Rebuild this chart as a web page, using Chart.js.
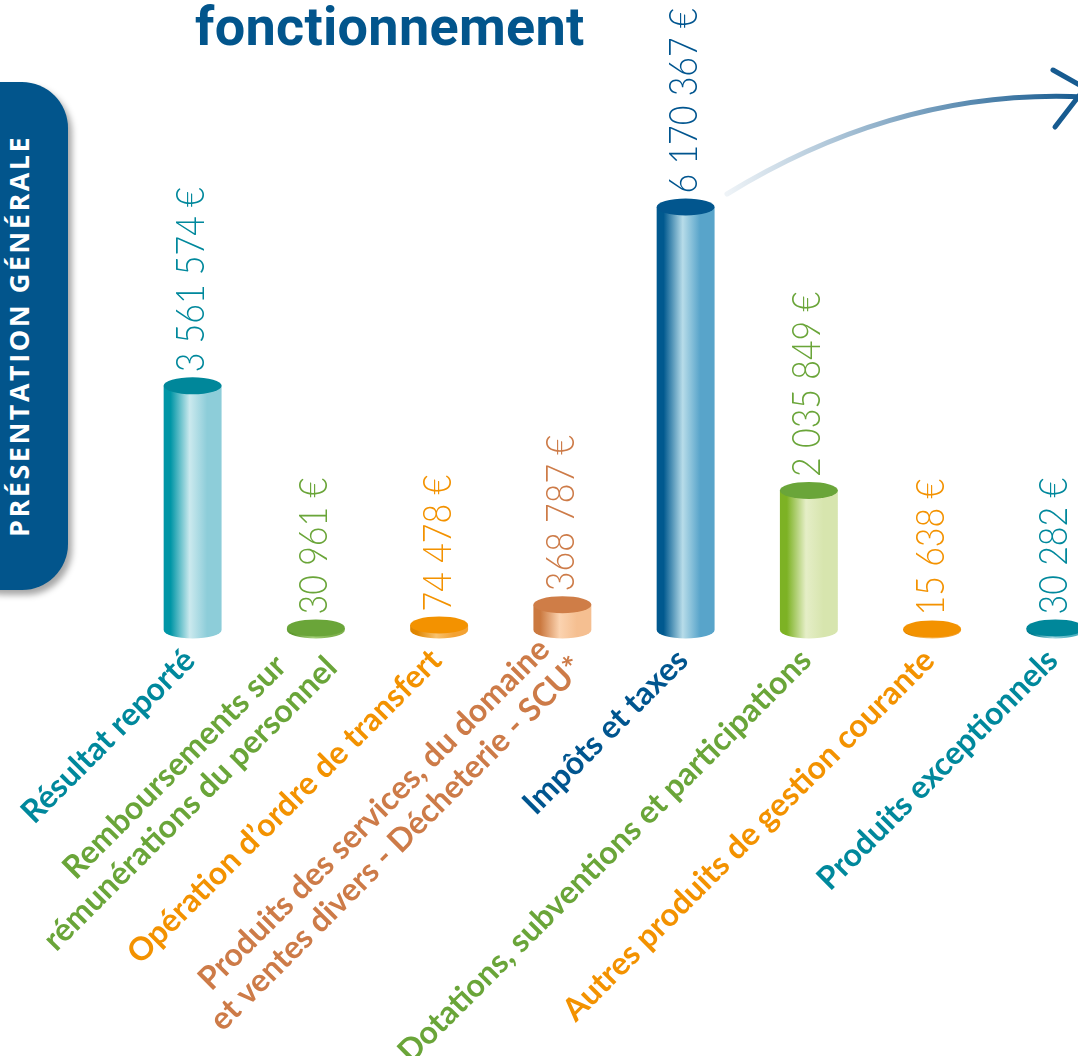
<!DOCTYPE html>
<html>
<head>
<meta charset="utf-8">
<script src="https://cdn.jsdelivr.net/npm/chart.js@4"></script>
<style>
html, body { margin: 0; padding: 0; width: 1078px; height: 1056px; overflow: hidden; background: #fff; }
#chart { position: absolute; left: 0; top: 0; display: block; }
#title { position: absolute; left: 195px; top: 0px; font: 700 54px Roboto, sans-serif; line-height: 53px; color: #02558c; white-space: nowrap; letter-spacing: 0.3px; }
#tab { position: absolute; left: -45px; top: 82px; width: 113px; height: 508px; background: #02558c; border-radius: 46px; box-shadow: 4px 5px 6px rgba(0,0,0,0.35); }
#tab span { position: absolute; left: 45px; top: 0; width: 40px; height: 508px; writing-mode: vertical-rl; transform: rotate(180deg); text-align: center; line-height: 38px; color: #fff; font: 700 27px "Open Sans", sans-serif; letter-spacing: 2.5px; white-space: nowrap; }
</style>
</head>
<body>
<div id="title">fonctionnement</div>
<div id="tab"><span>PRÉSENTATION GÉNÉRALE</span></div>
<canvas id="chart" width="1130" height="1056"></canvas>
<script>
// Categories (one entry per bar, split in lines as on the picture)
const categories = [
    ['Résultat reporté'],
    ['Remboursements sur', 'rémunérations du personnel'],
    ['Opération d’ordre de transfert'],
    ['Produits des services, du domaine', 'et ventes divers - Décheterie - SCU*'],
    ['Impôts et taxes'],
    ['Dotations, subventions et participations'],
    ['Autres produits de gestion courante'],
    ['Produits exceptionnels']
];

// Amounts in euros
const values = [3561574, 30961, 74478, 368787, 6170367, 2035849, 15638, 30282];

// Colours for each bar: text, top of cylinder, side gradient (dark, light, right)
const textColors = ['#00889c', '#6aa539', '#f39200', '#cd7b48', '#00558f', '#6aa539', '#f39200', '#00889c'];
const topColors = ['#00879a', '#6aa539', '#f39200', '#cf7d47', '#02568e', '#6aa539', '#f39200', '#00879a'];
const sideColors = [
    ['#0096a6', '#cbe9ee', '#8dcdd9'],
    ['#5f9a2f', '#a4cf7a', '#7fb24e'],
    ['#e08600', '#f8c26e', '#f3a233'],
    ['#cb7940', '#fbd3b0', '#f5bf91'],
    ['#00598f', '#b7dce9', '#58a4ca'],
    ['#7db224', '#e5eec7', '#d7e5ae'],
    ['#e08600', '#f8c26e', '#f3a233'],
    ['#007f92', '#9fd3dc', '#4ab0c0']
];

const formatEuro = v => String(v).replace(/\B(?=(\d{3})+(?!\d))/g, ' ') + ' €';

// Draws every bar as a cylinder, plus value and category labels
const cylinderPlugin = {
    id: 'cylinders',
    afterDatasetsDraw(chart) {
        const ctx = chart.ctx;
        const meta = chart.getDatasetMeta(0);
        meta.data.forEach((bar, i) => {
            const { x, y, base, width } = bar.getProps(['x', 'y', 'base', 'width'], true);
            const rx = width / 2;
            const ry = 8.5;
            const side = sideColors[i];

            // body
            const g = ctx.createLinearGradient(x - rx, 0, x + rx, 0);
            g.addColorStop(0, side[0]);
            g.addColorStop(0.12, side[0]);
            g.addColorStop(0.45, side[1]);
            g.addColorStop(0.75, side[2]);
            g.addColorStop(1, side[2]);
            ctx.save();
            ctx.beginPath();
            ctx.moveTo(x - rx, y);
            ctx.lineTo(x - rx, base);
            ctx.ellipse(x, base, rx, ry, 0, Math.PI, 0, true);
            ctx.lineTo(x + rx, y);
            ctx.closePath();
            ctx.fillStyle = g;
            ctx.fill();

            // top
            ctx.beginPath();
            ctx.ellipse(x, y, rx, ry, 0, 0, Math.PI * 2);
            ctx.fillStyle = topColors[i];
            ctx.fill();
            ctx.restore();

            // value label, vertical
            ctx.save();
            ctx.translate(x - 1, y - ry - 5);
            ctx.rotate(-Math.PI / 2);
            ctx.scale(0.87, 1);
            ctx.font = '300 39px Lato, sans-serif';
            ctx.fillStyle = textColors[i];
            ctx.textAlign = 'left';
            ctx.textBaseline = 'middle';
            ctx.fillText(formatEuro(values[i]), 0, 0);
            ctx.restore();

            // category label, 45 degrees
            const lines = categories[i];
            const lh = 37;
            ctx.save();
            ctx.translate(x - 3, chart.chartArea.bottom + 25);
            ctx.rotate(-Math.PI / 4);
            ctx.font = 'bold 32px Lato, sans-serif';
            ctx.fillStyle = textColors[i];
            ctx.textAlign = 'right';
            ctx.textBaseline = 'middle';
            const widths = lines.map(l => ctx.measureText(l).width);
            const w = Math.max(...widths);
            const shift = lines.length > 1 ? 8 : 0;
            lines.forEach((l, k) => {
                ctx.fillText(l, shift - (w - widths[k]) * 0.35, (k - (lines.length - 1) / 2) * lh);
            });
            ctx.restore();
        });
    },
    afterDraw(chart) {
        // curved arrow leaving the "Impôts et taxes" bar
        const ctx = chart.ctx;
        ctx.save();
        const g = ctx.createLinearGradient(727, 0, 1080, 0);
        g.addColorStop(0, '#eef3f7');
        g.addColorStop(1, '#175b90');
        ctx.strokeStyle = g;
        ctx.lineWidth = 5;
        ctx.lineCap = 'round';
        ctx.beginPath();
        ctx.moveTo(727, 194);
        ctx.quadraticCurveTo(900, 88, 1085, 97);
        ctx.stroke();
        ctx.strokeStyle = '#175b90';
        ctx.beginPath();
        ctx.moveTo(1053, 70);
        ctx.lineTo(1085, 88);
        ctx.lineTo(1055, 127);
        ctx.stroke();
        ctx.restore();
    }
};

new Chart(document.getElementById('chart'), {
    type: 'bar',
    data: {
        labels: categories,
        datasets: [{
            data: values,
            backgroundColor: 'rgba(0,0,0,0)',
            categoryPercentage: 1,
            barPercentage: 0.47
        }]
    },
    options: {
        responsive: false,
        animation: false,
        layout: { padding: { left: 131, right: 13, top: 13, bottom: 426 } },
        plugins: {
            legend: { display: false },
            tooltip: { enabled: false }
        },
        scales: {
            x: { display: false },
            y: { display: false, min: 0, max: 9000000 }
        }
    },
    plugins: [cylinderPlugin]
});
</script>
</body>
</html>
